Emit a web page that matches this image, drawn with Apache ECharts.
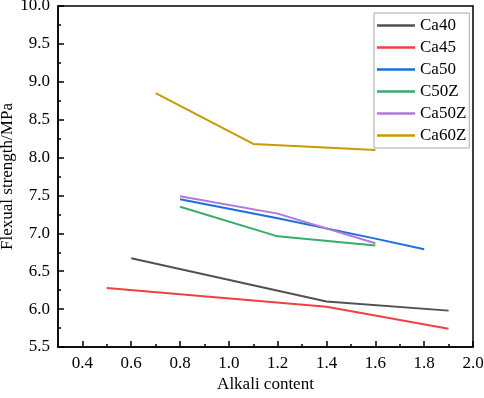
<!DOCTYPE html>
<html><head><meta charset="utf-8">
<script src="https://cdn.jsdelivr.net/npm/echarts@6/dist/echarts.min.js"></script>
<style>html,body{margin:0;padding:0;background:#fff}#c{width:484px;height:398px}</style>
</head><body><div id="c"></div>
<script>
var seriesNames = ['Ca40', 'Ca45', 'Ca50', 'C50Z', 'Ca50Z', 'Ca60Z'];
var ca40X = [0.6, 1.4, 1.9];        var ca40Y = [6.67, 6.10, 5.98];
var ca45X = [0.5, 1.4, 1.9];        var ca45Y = [6.28, 6.03, 5.74];
var ca50X = [0.8, 1.2, 1.6, 1.8];   var ca50Y = [7.45, 7.20, 6.93, 6.79];
var c50zX = [0.8, 1.2, 1.6];        var c50zY = [7.35, 6.96, 6.84];
var ca50zX = [0.8, 1.2, 1.6];       var ca50zY = [7.49, 7.26, 6.87];
var ca60zX = [0.7, 1.1, 1.6];       var ca60zY = [8.85, 8.18, 8.10];
var xMajorTicks = [0.4, 0.6, 0.8, 1.0, 1.2, 1.4, 1.6, 1.8, 2.0];
var xMinorTicks = [0.3, 0.5, 0.7, 0.9, 1.1, 1.3, 1.5, 1.7, 1.9];
var colors = ['#515151', '#F14040', '#1A6FDF', '#37AD6B', '#B177DE', '#CC9900'];

function zip(xs, ys) { return xs.map(function (x, i) { return [x, ys[i]]; }); }
var allX = [ca40X, ca45X, ca50X, c50zX, ca50zX, ca60zX];
var allY = [ca40Y, ca45Y, ca50Y, c50zY, ca50zY, ca60zY];

var font = 'Liberation Serif';
var chart = echarts.init(document.getElementById('c'), null, {renderer: 'canvas'});
chart.setOption({
  animation: false,
  color: colors,
  textStyle: {fontFamily: font},
  grid: {left: 58, right: 11, top: 6, bottom: 51, containLabel: false, outerBoundsMode: 'none',
    show: true, borderColor: '#000', borderWidth: 1.5, backgroundColor: 'transparent'},
  legend: {
    orient: 'vertical', left: 374, top: 13,
    icon: 'rect', itemWidth: 38, itemHeight: 2.5, itemGap: 5,
    padding: [4, 3, 4, 3],
    borderColor: '#aaa', borderWidth: 1,
    textStyle: {fontFamily: font, fontSize: 17, color: '#000', padding: [0, 0, 0, 0]},
    data: seriesNames
  },
  xAxis: [{
    type: 'value', min: 0.3, max: 2.0, position: 'bottom',
    name: 'Alkali content', nameLocation: 'middle', nameGap: 29, nameMoveOverlap: false,
    nameTextStyle: {fontFamily: font, fontSize: 17, color: '#000'},
    axisLine: {show: true, onZero: false, lineStyle: {color: '#000', width: 1.5}},
    axisTick: {show: true, inside: true, length: 6, lineStyle: {color: '#000', width: 1.5}, customValues: xMajorTicks},
    axisLabel: {fontFamily: font, fontSize: 17, color: '#000', margin: 8, customValues: xMajorTicks,
      formatter: function (v) { return v.toFixed(1); }},
    splitLine: {show: false}
  }, {
    type: 'value', min: 0.3, max: 2.0, position: 'bottom',
    axisLine: {show: false, onZero: false},
    axisTick: {show: true, inside: true, length: 3, lineStyle: {color: '#000', width: 1.5}, customValues: xMinorTicks},
    axisLabel: {show: false},
    splitLine: {show: false}
  }],
  yAxis: {
    type: 'value', min: 5.5, max: 10, interval: 0.5,
    name: 'Flexual strength/MPa', nameLocation: 'middle', nameGap: 42, nameMoveOverlap: false,
    nameTextStyle: {fontFamily: font, fontSize: 17, color: '#000'},
    axisLine: {show: true, onZero: false, lineStyle: {color: '#000', width: 1.5}},
    axisTick: {show: true, inside: true, length: 6, lineStyle: {color: '#000', width: 1.5}},
    minorTick: {show: true, splitNumber: 2, length: 3, lineStyle: {color: '#000', width: 1.5}},
    axisLabel: {fontFamily: font, fontSize: 17, color: '#000', margin: 8,
      formatter: function (v) { return v.toFixed(1); }},
    splitLine: {show: false}, minorSplitLine: {show: false}
  },
  series: seriesNames.map(function (n, i) {
    return {name: n, type: 'line', xAxisIndex: 0, symbol: 'none', data: zip(allX[i], allY[i]),
      lineStyle: {width: 2, color: colors[i]}, itemStyle: {color: colors[i]}};
  })
});
</script></body></html>
